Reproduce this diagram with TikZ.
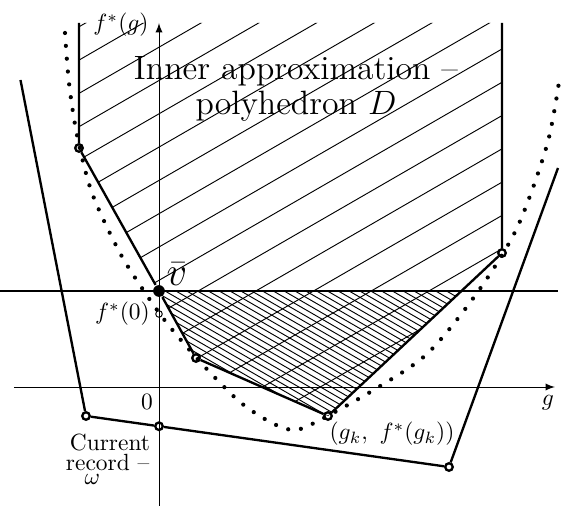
\documentclass[tikz,border=0pt]{standalone}
\usepackage{amsmath,amssymb}
\tikzset{
  vtx/.style={circle,draw,line width=1pt,inner sep=0pt,minimum size=3.2pt},
  topdot/.style={circle,fill,inner sep=0pt,minimum size=5pt},
  zerodot/.style={circle,draw,thin,inner sep=0pt,minimum size=2.8pt},
  hatch/.style={thin},
  curve/.style={line width=1.8pt,line cap=round,dash pattern=on 0pt off 5.5pt}
}
\begin{document}
\begin{tikzpicture}[line width=1pt,x=0.75cm,y=0.75cm]
\useasboundingbox (-3.18,-2.38) rectangle (8.12,7.74);
\coordinate (Dtl) at (-1.6,7.28);
\coordinate (D1) at (-1.6,4.78);
\coordinate (V) at (0,1.92);
\coordinate (D2) at (0.74,0.58);
\coordinate (D3) at (3.38,-0.58);
\coordinate (D4) at (6.86,2.68);
\coordinate (Dtr) at (6.86,7.28);
% hatching of D
\begin{scope}
\clip (Dtl) -- (D1) -- (V) -- (D2) -- (D3) -- (D4) -- (Dtr) -- cycle;
\foreach \c in {-8,...,9}
  \draw[hatch] (-2,{1.645+\c*0.666}) -- ++(30:14);
\clip (-2,-1) rectangle (8,1.92);
\foreach \k in {-8,...,26}
  \draw[hatch] (-1,{2.567+\k*0.125}) -- ++(-30:12);
\end{scope}
% f*(g)
\draw[curve] plot[smooth] coordinates {(-1.88,7.08) (-1.8,6.08) (-1.64,5.04)
  (-1.34,3.88) (-0.78,2.68) (-0.22,1.8) (0.22,1.2) (0.88,0.44) (1.62,-0.3)
  (2.26,-0.72) (2.72,-0.86) (3.22,-0.66) (4.36,-0.02) (5.38,0.68) (6.36,1.88)
  (7.16,3.18) (7.76,4.84) (8.0,6.1)};
% axes
\draw[thin,-latex] (-2.9,0) -- (7.92,0);
\draw[thin,-latex] (0,-2.38) -- (0,7.28);
\draw (-3.18,1.92) -- (7.98,1.92);
% polyhedron D
\node[vtx] (d1) at (D1) {};
\node[vtx] (d2) at (D2) {};
\node[vtx] (d3) at (D3) {};
\node[vtx] (d4) at (D4) {};
\node[topdot] (v) at (V) {};
\draw (Dtl) -- (d1) -- (v) -- (d2) -- (d3) -- (d4) -- (Dtr);
% current record
\coordinate (Wtl) at (-2.77,6.14);
\coordinate (Wtr) at (7.98,4.38);
\node[vtx] (w1) at (-1.46,-0.58) {};
\node[vtx] (w0) at (0,-0.785) {};
\node[vtx] (w2) at (5.8,-1.6) {};
\draw (Wtl) -- (w1) -- (w0) -- (w2) -- (Wtr);
\node[zerodot] (fz) at (0,1.46) {};
% labels
\node (glab) at (7.78,-0.32) {$g$};
\node (flab) at (-0.76,7.24) {$f^*(g)$};
\node (zlab) at (-0.24,-0.3) {$0$};
\node[left,xshift=1.5pt] (fzlab) at (fz.west) {$f^*(0)$};
\node[font=\LARGE] (vlab) at (0.36,2.26) {$\bar{v}$};
\node (gklab) at (4.66,-0.94) {$(g_k,\ f^*(g_k))$};
\node[font=\Large,align=center] (dlab) at (2.74,5.96)
  {Inner approximation --\\[-2.7pt]polyhedron $D$};
\node[align=left] (reclab) at (-1.02,-1.44)
  {\,Current\\[-3.5pt]record --\\[-6pt]\hspace{8pt}$\omega$};
\end{tikzpicture}
\end{document}
